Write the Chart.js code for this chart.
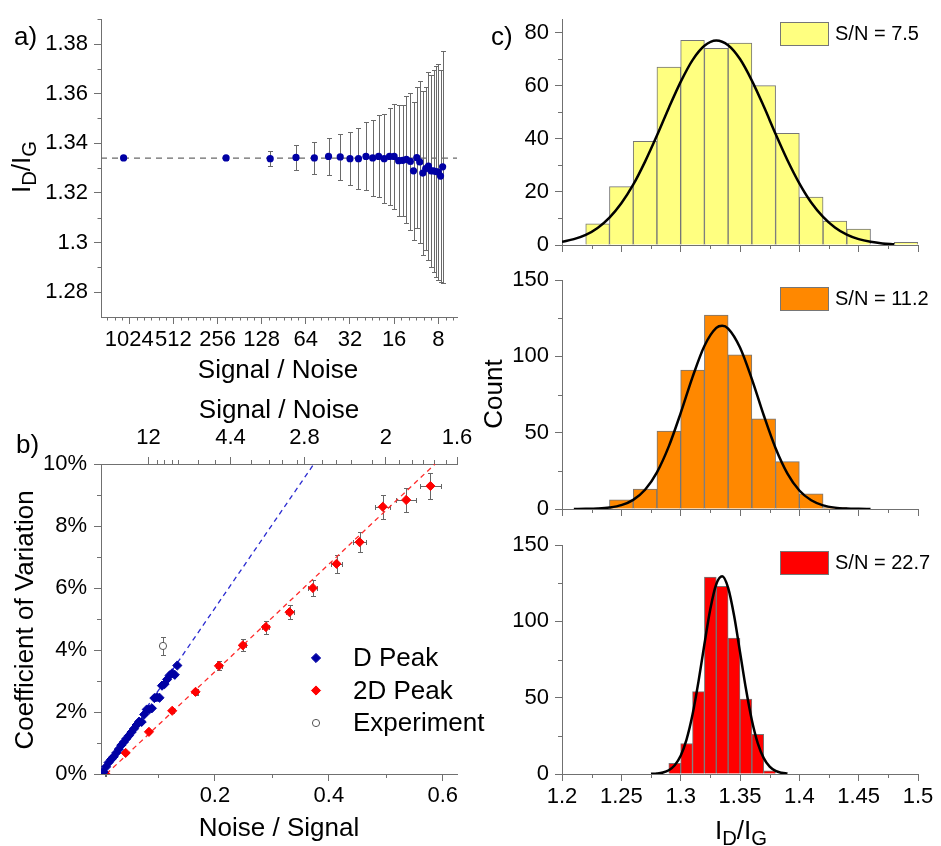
<!DOCTYPE html>
<html>
<head>
<meta charset="utf-8">
<title>Raman ratio statistics</title>
<script src="https://cdn.jsdelivr.net/npm/chart.js@4.4.1/dist/chart.umd.min.js"></script>
<style>
  html, body { margin: 0; padding: 0; background: #fff; }
  #figure { position: relative; width: 941px; height: 846px; overflow: hidden;
    font-family: 'Liberation Sans', Arial, sans-serif; color: #000; }
  #figure canvas { position: absolute; }
  .txt { position: absolute; white-space: nowrap; line-height: 1; }
  .ctr { transform: translate(-50%, -50%); }
  .vert { transform: translate(-50%, -50%) rotate(-90deg); }
  .txt sub { font-size: 78%; vertical-align: -0.3em; line-height: 0; }
</style>
</head>
<body>
<div id="figure">
  <canvas id="panelA" width="470" height="390" style="left:0;top:0"></canvas>
  <canvas id="panelB" width="490" height="456" style="left:0;top:390px"></canvas>
  <canvas id="histLow" width="471" height="275" style="left:470px;top:0"></canvas>
  <canvas id="histMid" width="471" height="280" style="left:470px;top:250px"></canvas>
  <canvas id="histHigh" width="471" height="331" style="left:470px;top:515px"></canvas>

  <div class="txt" style="left:14px;top:23px;font-size:26px">a)</div>
  <div class="txt" style="left:16px;top:431px;font-size:26px">b)</div>
  <div class="txt" style="left:491px;top:23px;font-size:26px">c)</div>

  <div class="txt vert" style="left:21px;top:167px;font-size:26px">I<sub>D</sub>/I<sub>G</sub></div>
  <div class="txt ctr" style="left:278px;top:369px;font-size:26px">Signal / Noise</div>
  <div class="txt ctr" style="left:279px;top:409px;font-size:26px">Signal / Noise</div>
  <div class="txt vert" style="left:24px;top:620px;font-size:26px">Coefficient of Variation</div>
  <div class="txt ctr" style="left:279px;top:827px;font-size:26px">Noise / Signal</div>
  <div class="txt vert" style="left:493px;top:394px;font-size:26px">Count</div>
  <div class="txt ctr" style="left:741px;top:830px;font-size:26px">I<sub>D</sub>/I<sub>G</sub></div>
</div>

<script>
// ---- a) I_D/I_G against signal-to-noise ----
const snrLevels = [1120, 224, 112, 74.7, 56, 44.8, 37.3, 32, 28, 24.9, 22.4, 20.4, 18.7, 17.2, 16, 14.9,
  14, 13.2, 12.4, 11.8, 11.2, 10.7, 10.2, 9.74, 9.33, 8.96, 8.62, 8.3, 8.0, 7.72, 7.47];
const ratioMean = [1.3341, 1.3341, 1.3338, 1.3343, 1.3341, 1.3347, 1.3345, 1.3338, 1.3338, 1.3347, 1.3341,
  1.3347, 1.3338, 1.3347, 1.3347, 1.3330, 1.3331, 1.3335, 1.3327, 1.3289, 1.3342, 1.3325, 1.3280, 1.3298,
  1.3308, 1.3289, 1.3289, 1.3286, 1.3284, 1.3268, 1.3305];
const ratioErr = [0.0004, 0.0008, 0.0031, 0.0049, 0.0063, 0.0075, 0.0091, 0.0107, 0.0124, 0.0137, 0.0152,
  0.0165, 0.0180, 0.0195, 0.0211, 0.0225, 0.0224, 0.0256, 0.0277, 0.0277, 0.0283, 0.0327, 0.0331, 0.0328,
  0.0380, 0.0387, 0.0407, 0.0424, 0.0434, 0.0427, 0.0467];
const ratioTrue = 1.334;
const snrTicks = [1024, 512, 256, 128, 64, 32, 16, 8];
const snrMin = 5.96, snrMax = 1597;
const ratioTicks = [1.28, 1.30, 1.32, 1.34, 1.36, 1.38];
const ratioMinor = [1.29, 1.31, 1.33, 1.35, 1.37, 1.39];

// ---- b) coefficient of variation against noise/signal ----
const nsD = [0.0009, 0.0045, 0.0089, 0.0134, 0.0179, 0.0223, 0.0268, 0.0312, 0.0357, 0.0402, 0.0446,
  0.0491, 0.0536, 0.058, 0.0625, 0.067, 0.0714, 0.0759, 0.0803, 0.0848, 0.0893, 0.0937, 0.0982, 0.1027,
  0.1071, 0.1116, 0.116, 0.1205, 0.125, 0.1295, 0.134];
const cvD = [0.03, 0.06, 0.23, 0.37, 0.47, 0.56, 0.68, 0.80, 0.93, 1.03, 1.14, 1.24, 1.35, 1.46, 1.58,
  1.69, 1.68, 1.92, 2.08, 2.08, 2.12, 2.45, 2.48, 2.46, 2.85, 2.90, 3.05, 3.18, 3.25, 3.20, 3.50];
const ns2D = [0.008, 0.0433, 0.0842, 0.125, 0.166, 0.207, 0.249, 0.2895, 0.331, 0.372, 0.4135, 0.454,
  0.4947, 0.5358, 0.5784];
const cv2D = [0.0, 0.68, 1.36, 2.04, 2.65, 3.49, 4.15, 4.74, 5.22, 6.0, 6.78, 7.48, 8.62, 8.84, 9.29];
const ns2DErr = [0.0003, 0.0015, 0.0025, 0.003, 0.004, 0.005, 0.0055, 0.006, 0.007, 0.008, 0.0095, 0.012,
  0.0135, 0.0175, 0.0187];
const cv2DErr = [0.01, 0.03, 0.05, 0.07, 0.10, 0.15, 0.19, 0.21, 0.23, 0.27, 0.29, 0.33, 0.38, 0.39, 0.42];
const nsExp = [0.1088];
const cvExp = [4.13];
const cvExpErr = [0.29];
const fitDNs = [0, 0.3737];
const fitDCv = [0, 10];
const fit2DNs = [0.0095, 0.5865];
const fit2DCv = [0, 10];
const nsTicks = [0.2, 0.4, 0.6];
const nsMinor = [0.1, 0.3, 0.5];
const cvTicks = [0, 2, 4, 6, 8, 10];
const cvMinor = [1, 3, 5, 7, 9];
const snTopTicks = [12, 4.4, 2.8, 2, 1.6];
const snTopMinor = [10.2, 9, 8, 7.4, 5.9, 5, 3.8, 3.4, 3.15, 2.9, 2.58, 2.42, 2.28, 2.1, 1.91, 1.83, 1.77, 1.71, 1.65];

// ---- c) I_D/I_G histograms with Gaussian fits ----
const binsLow = [1.23, 1.25, 1.27, 1.29, 1.31, 1.33, 1.35, 1.37, 1.39, 1.41, 1.43, 1.45, 1.47, 1.49];
const countsLow = [8, 22, 39, 67, 77, 74, 76, 60, 42, 18, 9, 6, 0, 1];
const binsMid = [1.25, 1.27, 1.29, 1.31, 1.33, 1.35, 1.37, 1.39, 1.41, 1.43];
const countsMid = [6, 13, 51, 91, 127, 101, 59, 31, 10, 1];
const binsHigh = [1.295, 1.305, 1.315, 1.325, 1.335, 1.345, 1.355, 1.365, 1.375];
const countsHigh = [7, 20, 54, 129, 123, 89, 49, 26, 2];

const fitLowX = [1.20, 1.21, 1.22, 1.23, 1.24, 1.25, 1.26, 1.27, 1.28, 1.29, 1.30, 1.31, 1.32, 1.33, 1.34,
  1.35, 1.36, 1.37, 1.38, 1.39, 1.40, 1.41, 1.42, 1.43, 1.44, 1.45, 1.46, 1.47, 1.48];
const fitLowY = [1.2, 2.2, 3.8, 6.4, 10.3, 15.7, 22.7, 31.4, 41.2, 51.6, 61.4, 69.6, 75.0, 77.0, 75.2,
  70.0, 61.9, 52.2, 41.8, 31.9, 23.2, 16.0, 10.6, 6.6, 3.9, 2.2, 1.2, 0.6, 0.3];
const fitMidX = [1.21, 1.22, 1.23, 1.24, 1.25, 1.26, 1.27, 1.28, 1.29, 1.30, 1.31, 1.32, 1.33, 1.335, 1.34,
  1.35, 1.36, 1.37, 1.38, 1.39, 1.40, 1.41, 1.42, 1.43, 1.44, 1.45, 1.46];
const fitMidY = [0.03, 0.1, 0.33, 0.97, 2.5, 6.0, 12.6, 24.0, 41.0, 62.8, 86.4, 106.8, 118.6, 120.0, 118.2,
  105.8, 85.1, 61.4, 39.8, 23.2, 12.1, 5.7, 2.4, 0.9, 0.3, 0.1, 0.02];
const fitHighX = [1.275, 1.28, 1.285, 1.29, 1.295, 1.30, 1.305, 1.31, 1.315, 1.32, 1.325, 1.33, 1.335,
  1.34, 1.345, 1.35, 1.355, 1.36, 1.365, 1.37, 1.375, 1.38, 1.385, 1.39];
const fitHighY = [0.1, 0.34, 0.96, 2.45, 5.7, 11.9, 22.7, 38.9, 60.5, 85.0, 108.1, 124.3, 129.5,
  121.9, 103.8, 80.0, 55.8, 35.2, 20.1, 10.4, 4.8, 2.0, 0.8, 0.27];

const idgTicks = [1.2, 1.25, 1.3, 1.35, 1.4, 1.45, 1.5];
const idgMinor = [1.225, 1.275, 1.325, 1.375, 1.425, 1.475];

// ---------- styling ----------
const AXIS = '#707070';
const BLUE = '#0000a4';
const RED = '#ff0000';
const TICK_SIZE = 22;
Chart.defaults.font.family = "'Liberation Sans', Arial, sans-serif";
Chart.defaults.color = '#000';

// short outward ticks between the labelled ones
const minorTicks = {
  id: 'minorTicks',
  afterDraw(chart, args, opts) {
    if (!opts.marks) return;
    const ctx = chart.ctx;
    const len = opts.length || 4;
    ctx.save();
    ctx.strokeStyle = AXIS;
    ctx.lineWidth = 1;
    ctx.beginPath();
    Object.entries(opts.marks).forEach(([id, values]) => {
      const s = chart.scales[id];
      values.forEach(v => {
        if (v < Math.min(s.min, s.max) || v > Math.max(s.min, s.max)) return;
        const p = Math.round(s.getPixelForValue(v)) + 0.5;
        if (s.position === 'bottom') { ctx.moveTo(p, s.top); ctx.lineTo(p, s.top + len); }
        else if (s.position === 'top') { ctx.moveTo(p, s.bottom); ctx.lineTo(p, s.bottom - len); }
        else { ctx.moveTo(s.right, p); ctx.lineTo(s.right - len, p); }
      });
    });
    ctx.stroke();
    ctx.restore();
  }
};

// capped error bars from dataset.errorX / dataset.errorY
const errorBars = {
  id: 'errorBars',
  beforeDatasetsDraw(chart) {
    const ctx = chart.ctx;
    chart.data.datasets.forEach((ds, di) => {
      if (!ds.errorX && !ds.errorY) return;
      const meta = chart.getDatasetMeta(di);
      const xs = chart.scales[meta.xAxisID];
      const ys = chart.scales[meta.yAxisID];
      const cap = ds.errorCap || 3;
      ctx.save();
      ctx.strokeStyle = ds.errorColor || '#666';
      ctx.lineWidth = 1;
      ctx.beginPath();
      ds.data.forEach((p, i) => {
        const px = Math.round(xs.getPixelForValue(p.x)) + 0.5;
        const py = Math.round(ys.getPixelForValue(p.y)) + 0.5;
        if (ds.errorY) {
          const t = Math.round(ys.getPixelForValue(p.y + ds.errorY[i])) + 0.5;
          const b = Math.round(ys.getPixelForValue(p.y - ds.errorY[i])) + 0.5;
          ctx.moveTo(px, t); ctx.lineTo(px, b);
          ctx.moveTo(px - cap, t); ctx.lineTo(px + cap, t);
          ctx.moveTo(px - cap, b); ctx.lineTo(px + cap, b);
        }
        if (ds.errorX) {
          const l = Math.round(xs.getPixelForValue(p.x - ds.errorX[i])) + 0.5;
          const r = Math.round(xs.getPixelForValue(p.x + ds.errorX[i])) + 0.5;
          ctx.moveTo(l, py); ctx.lineTo(r, py);
          ctx.moveTo(l, py - cap); ctx.lineTo(l, py + cap);
          ctx.moveTo(r, py - cap); ctx.lineTo(r, py + cap);
        }
      });
      ctx.stroke();
      ctx.restore();
    });
  }
};

// legend drawn inside the plot area
const keyPanel = {
  id: 'keyPanel',
  afterDraw(chart, args, opts) {
    if (!opts.items) return;
    const ctx = chart.ctx;
    ctx.save();
    ctx.font = opts.font;
    ctx.textBaseline = 'middle';
    opts.items.forEach((idx, i) => {
      const ds = chart.data.datasets[idx];
      const y = opts.y + i * (opts.gap || 0);
      if (opts.box) {
        ctx.fillStyle = ds.backgroundColor;
        ctx.strokeStyle = ds.borderColor;
        ctx.lineWidth = 1;
        ctx.fillRect(opts.x, y - opts.box[1] / 2, opts.box[0], opts.box[1]);
        ctx.strokeRect(opts.x + 0.5, Math.round(y - opts.box[1] / 2) + 0.5, opts.box[0], opts.box[1]);
      } else {
        ctx.fillStyle = ds.backgroundColor;
        ctx.strokeStyle = ds.borderColor;
        ctx.lineWidth = ds.borderWidth || 1;
        Chart.helpers.drawPoint(ctx, { pointStyle: ds.pointStyle, radius: ds.pointRadius, rotation: 0,
          borderWidth: ds.borderWidth || 1 }, opts.x, y);
      }
      ctx.fillStyle = '#000';
      ctx.fillText(ds.label, opts.textX, y + 1);
    });
    ctx.restore();
  }
};

Chart.register(minorTicks, errorBars, keyPanel);

function makeAxis(o) {
  return {
    type: o.type || 'linear',
    position: o.position,
    reverse: !!o.reverse,
    min: o.min,
    max: o.max,
    offset: false,
    border: { color: AXIS, width: 1 },
    grid: { drawOnChartArea: false, drawTicks: true, tickLength: 7, tickColor: AXIS, offset: false },
    afterBuildTicks: s => { s.ticks = o.major.map(v => ({ value: v })); },
    afterFit: s => { if (s.isHorizontal()) s.height = o.size; else s.width = o.size; },
    ticks: {
      display: o.labels !== false,
      color: '#000',
      font: { size: TICK_SIZE },
      padding: o.pad,
      autoSkip: false,
      maxRotation: 0,
      minRotation: 0,
      callback: o.fmt || (v => String(+(+v).toFixed(3)))
    }
  };
}

const pts = (xs, ys) => xs.map((x, i) => ({ x: x, y: ys[i] }));

// minor ticks of the octave axis: five per factor of two
const octaveMinor = [];
for (let n = 2; n <= 10; n++) {
  for (let j = 1; j < 6; j++) octaveMinor.push(Math.pow(2, n + j / 6));
}

// ---------- a) ----------
new Chart(document.getElementById('panelA'), {
  type: 'scatter',
  data: {
    datasets: [
      {
        label: 'I_D/I_G',
        data: pts(snrLevels, ratioMean),
        errorY: ratioErr,
        errorCap: 2.5,
        errorColor: '#6a6a6a',
        backgroundColor: BLUE,
        borderColor: BLUE,
        pointRadius: 3.6,
        borderWidth: 0
      },
      {
        label: 'true ratio',
        data: [{ x: snrMax, y: ratioTrue }, { x: snrMin, y: ratioTrue }],
        showLine: true,
        borderColor: '#6a6a6a',
        borderWidth: 1.2,
        borderDash: [6, 5],
        pointRadius: 0
      }
    ]
  },
  options: {
    responsive: false,
    animation: false,
    events: [],
    layout: { padding: { left: 0, right: 13, top: 15, bottom: 0 } },
    plugins: {
      legend: { display: false },
      tooltip: { enabled: false },
      minorTicks: { length: 3.5, marks: { x: octaveMinor, y: ratioMinor } }
    },
    scales: {
      x: makeAxis({ type: 'logarithmic', position: 'bottom', reverse: true, min: snrMin, max: snrMax,
        major: snrTicks, size: 73, pad: 3, fmt: v => String(v) }),
      y: makeAxis({ position: 'left', min: 1.27, max: 1.39, major: ratioTicks, size: 101, pad: 6,
        fmt: v => String(+(+v).toFixed(2)) })
    }
  }
});

// ---------- b) ----------
new Chart(document.getElementById('panelB'), {
  type: 'scatter',
  data: {
    datasets: [
      {
        label: 'D Peak',
        data: pts(nsD, cvD),
        pointStyle: 'rectRot',
        pointRadius: 4.6,
        backgroundColor: BLUE,
        borderColor: BLUE,
        borderWidth: 1
      },
      {
        label: '2D Peak',
        data: pts(ns2D, cv2D),
        errorX: ns2DErr,
        errorY: cv2DErr,
        errorColor: '#666',
        errorCap: 2.5,
        pointStyle: 'rectRot',
        pointRadius: 4.6,
        backgroundColor: RED,
        borderColor: RED,
        borderWidth: 1
      },
      {
        label: 'Experiment',
        data: pts(nsExp, cvExp),
        errorY: cvExpErr,
        errorColor: '#666',
        errorCap: 2.5,
        pointStyle: 'circle',
        pointRadius: 3.6,
        backgroundColor: '#fff',
        borderColor: '#555',
        borderWidth: 1
      },
      {
        label: 'D fit',
        data: pts(fitDNs, fitDCv),
        showLine: true,
        borderColor: '#2a2ad0',
        borderWidth: 1.3,
        borderDash: [5, 4],
        pointRadius: 0
      },
      {
        label: '2D fit',
        data: pts(fit2DNs, fit2DCv),
        showLine: true,
        borderColor: '#ff2a2a',
        borderWidth: 1.3,
        borderDash: [5, 4],
        pointRadius: 0
      }
    ]
  },
  options: {
    responsive: false,
    animation: false,
    events: [],
    layout: { padding: { left: 0, right: 33, top: 0, bottom: 0 } },
    plugins: {
      legend: { display: false },
      tooltip: { enabled: false },
      minorTicks: { length: 4, marks: { x: nsMinor, y: cvMinor, x2: snTopMinor.map(v => 1 / v) } },
      keyPanel: { items: [0, 1, 2], x: 316, y: 268, gap: 32.5, textX: 353, font: "26px 'Liberation Sans', Arial" }
    },
    scales: {
      x: makeAxis({ position: 'bottom', min: 0, max: 0.625, major: nsTicks, size: 72, pad: 2 }),
      x2: makeAxis({ position: 'top', min: 0, max: 0.625, major: snTopTicks.map(v => 1 / v), size: 74, pad: 6,
        fmt: (v, i) => String(snTopTicks[i]) }),
      y: makeAxis({ position: 'left', min: 0, max: 10, major: cvTicks, size: 101, pad: 7, fmt: v => v + '%' })
    }
  }
});

// ---------- c) ----------
function histogram(id, bins, counts, fitX, fitY, fill, label, yMax, yTicks, yMinor, top, xSize, showX, keyY) {
  return new Chart(document.getElementById(id), {
    type: 'bar',
    data: {
      datasets: [
        {
          type: 'bar',
          label: label,
          data: pts(bins, counts),
          backgroundColor: fill,
          borderColor: '#767676',
          borderWidth: 1,
          barPercentage: 1,
          categoryPercentage: 1,
          order: 1
        },
        {
          type: 'line',
          label: 'Gaussian fit',
          data: pts(fitX, fitY),
          borderColor: '#000',
          borderWidth: 2.5,
          pointRadius: 0,
          cubicInterpolationMode: 'monotone',
          order: 0
        }
      ]
    },
    options: {
      responsive: false,
      animation: false,
      events: [],
      layout: { padding: { left: 0, right: 23, top: top, bottom: 0 } },
      plugins: {
        legend: { display: false },
        tooltip: { enabled: false },
        minorTicks: { length: 4, marks: { x: idgMinor, y: yMinor } },
        keyPanel: { items: [0], box: [48, 23], x: 310, y: keyY, textX: 365, font: "20px 'Liberation Sans', Arial" }
      },
      scales: {
        x: makeAxis({ position: 'bottom', min: 1.2, max: 1.5, major: idgTicks, size: xSize, pad: 3,
          labels: showX, fmt: v => String(+(+v).toFixed(2)) }),
        y: makeAxis({ position: 'left', min: 0, max: yMax, major: yTicks, size: 92, pad: 6 })
      }
    }
  });
}

histogram('histLow', binsLow, countsLow, fitLowX, fitLowY, '#ffff80', 'S/N = 7.5',
  85, [0, 20, 40, 60, 80], [10, 30, 50, 70], 15, 30, false, 33.5);
histogram('histMid', binsMid, countsMid, fitMidX, fitMidY, '#ff8800', 'S/N = 11.2',
  150, [0, 50, 100, 150], [25, 75, 125], 30, 21, false, 48.5);
histogram('histHigh', binsHigh, countsHigh, fitHighX, fitHighY, '#ff0000', 'S/N = 22.7',
  150, [0, 50, 100, 150], [25, 75, 125], 30, 72, true, 47.5);
</script>
</body>
</html>
